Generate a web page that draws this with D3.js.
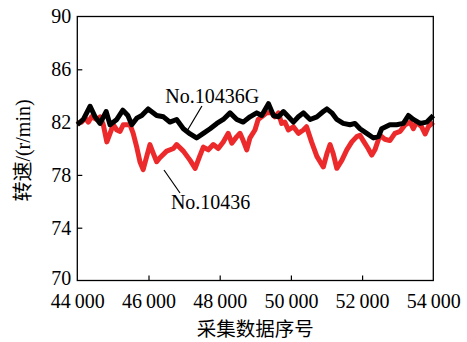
<!DOCTYPE html>
<html><head><meta charset="utf-8">
<script src="https://cdn.jsdelivr.net/npm/d3@7/dist/d3.min.js"></script>
<style>body{margin:0;background:#fff}svg{display:block}</style>
</head><body><svg id="c" width="467" height="342"></svg>
<script>
const xTicks = [44000, 46000, 48000, 50000, 52000, 54000];
const yTicks = [70, 74, 78, 82, 86, 90];
const seriesNames = ["No.10436G", "No.10436"];

const blackX = [44000,44170,44360,44500,44640,44810,44920,45110,45280,45420,45530,45670,45810,45990,46230,46420,46600,46790,46980,47170,47350,47540,47730,47920,48100,48290,48480,48660,48850,49040,49180,49370,49510,49650,49790,49930,50070,50210,50350,50540,50730,50910,51010,51150,51290,51470,51660,51800,51940,52130,52320,52460,52550,52780,52970,53160,53300,53440,53630,53820,54000];
const blackY = [81.8,82.2,83.2,82.4,81.9,82.8,81.8,82.2,82.9,82.5,81.8,82.3,82.5,83.0,82.5,82.4,82.0,82.2,81.5,81.1,80.8,81.15,81.5,81.9,82.2,82.7,82.2,82.0,82.4,82.7,82.5,83.4,82.5,82.4,82.8,82.4,82.0,82.4,82.7,82.2,82.4,82.8,83.0,82.7,82.2,81.9,81.8,81.9,81.5,81.15,80.8,80.9,81.5,81.8,81.8,81.9,82.5,82.2,81.9,82.0,82.5];

const redX = [44000,44120,44220,44310,44400,44550,44640,44730,44830,44920,45010,45110,45200,45290,45390,45480,45570,45670,45760,45850,45950,46040,46140,46230,46320,46510,46700,46790,46980,47170,47310,47450,47540,47680,47820,47960,48100,48240,48340,48480,48570,48660,48760,48850,48990,49080,49180,49320,49460,49550,49650,49740,49830,49930,50070,50210,50350,50440,50580,50730,50820,50910,51010,51100,51190,51290,51430,51570,51710,51850,51940,52030,52170,52270,52360,52500,52640,52780,52920,53070,53210,53350,53440,53530,53670,53770,53860,54000];
const redY = [81.9,82.0,82.3,82.0,82.4,82.2,82.4,81.8,80.5,81.15,81.8,81.4,81.3,81.8,81.8,81.8,81.15,80.1,79.0,78.4,79.4,80.3,79.6,79.0,79.3,79.8,80.0,80.3,79.8,79.1,78.5,79.5,80.1,79.9,80.3,80.0,80.5,81.15,80.4,80.9,81.15,80.6,79.9,80.8,81.4,82.2,82.4,82.7,82.7,82.4,82.7,81.9,82.0,81.4,81.65,81.15,81.4,81.65,80.5,79.4,79.0,78.6,79.6,80.3,79.6,78.5,79.1,79.9,80.5,80.9,81.0,80.6,80.0,79.5,79.9,81.0,80.7,80.6,81.15,81.3,81.8,82.0,81.5,82.0,81.65,81.1,81.65,82.0];

const W = 467, H = 342;
const m = {left: 77.3, top: 16.5, right: 467 - 433.3, bottom: 342 - 280.5};
const svg = d3.select("#c");
const serif = "'Liberation Serif','Times New Roman',serif";
const cjk = "'Noto Sans CJK SC',sans-serif";

const x = d3.scaleLinear().domain([44000, 54000]).range([m.left, W - m.right]);
const y = d3.scaleLinear().domain([70, 90]).range([H - m.bottom, m.top]);

const fmt = v => { const s = String(v); return s.slice(0, 2) + "\u2009" + s.slice(2); };

// series
const line = d3.line().x(d => x(d[0])).y(d => y(d[1]));
const redData = d3.zip(redX, redY);
const blackData = d3.zip(blackX, blackY);
svg.append("path").datum(redData).attr("d", line)
  .attr("fill", "none").attr("stroke", "#ec2a2c").attr("stroke-width", 5).attr("stroke-linejoin", "round");
svg.append("path").datum(blackData).attr("d", line)
  .attr("fill", "none").attr("stroke", "#000").attr("stroke-width", 5).attr("stroke-linejoin", "round");

// axes
const gx = svg.append("g").attr("transform", `translate(0,${y(70)})`)
  .call(d3.axisBottom(x).tickValues(xTicks).tickFormat(fmt).tickSizeInner(-5).tickSizeOuter(0).tickPadding(13));
const gy = svg.append("g").attr("transform", `translate(${x(44000)},0)`)
  .call(d3.axisLeft(y).tickValues(yTicks).tickSizeInner(-5).tickSizeOuter(0).tickPadding(6));
[gx, gy].forEach(g => {
  g.select(".domain").remove();
  g.selectAll("line").attr("stroke", "#000").attr("stroke-width", 1.2);
  g.selectAll("text").attr("font-family", serif).attr("font-size", 20).attr("fill", "#000");
});
gx.selectAll(".tick line").filter(d => d === 44000 || d === 54000).remove();
gy.selectAll(".tick line").filter(d => d === 70 || d === 90).remove();
gy.selectAll(".tick text").filter(d => d === 70).attr("y", -2.5);

// frame
svg.append("rect").attr("x", x(44000)).attr("y", y(90))
  .attr("width", x(54000) - x(44000)).attr("height", y(70) - y(90))
  .attr("fill", "none").attr("stroke", "#000").attr("stroke-width", 1.3);

// axis titles
svg.append("text").attr("x", (x(44000) + x(54000)) / 2).attr("y", 336)
  .attr("text-anchor", "middle").attr("font-family", cjk).attr("font-size", 19.5).text("采集数据序号");
const yt = svg.append("text").attr("transform", `translate(30,${(y(70)+y(90))/2 + 2}) rotate(-90)`)
  .attr("text-anchor", "middle").attr("font-size", 20);
yt.append("tspan").attr("font-family", cjk).text("转速");
yt.append("tspan").attr("font-family", serif).text("/(r/min)");

// annotations
svg.append("line").attr("x1", x(47050)).attr("y1", y(81.17)).attr("x2", x(47500)).attr("y2", y(83.22))
  .attr("stroke", "#000").attr("stroke-width", 1.2);
svg.append("text").attr("x", x(46470)).attr("y", y(83.45)).attr("font-family", serif).attr("font-size", 20).text(seriesNames[0]);
svg.append("line").attr("x1", x(46435)).attr("y1", y(78.37)).attr("x2", x(46885)).attr("y2", y(76.63))
  .attr("stroke", "#000").attr("stroke-width", 1.2);
svg.append("text").attr("x", x(46630)).attr("y", y(75.42)).attr("font-family", serif).attr("font-size", 20).text(seriesNames[1]);
</script></body></html>
